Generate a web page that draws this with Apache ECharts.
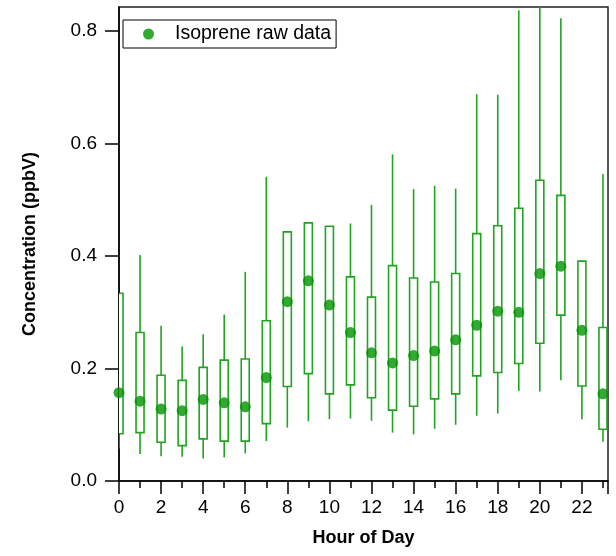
<!DOCTYPE html>
<html>
<head>
<meta charset="utf-8">
<script src="https://cdn.jsdelivr.net/npm/echarts@6/dist/echarts.min.js"></script>
<style>
html,body{margin:0;padding:0;background:#fff;}
#chart{width:616px;height:556px;}
</style>
</head>
<body>
<div id="chart"></div>
<script>
// Hour of day
var hours = [0,1,2,3,4,5,6,7,8,9,10,11,12,13,14,15,16,17,18,19,20,21,22,23];
// Lower whisker
var whiskerLow = [0.058,0.048,0.044,0.043,0.040,0.042,0.049,0.071,0.095,0.106,0.110,0.111,0.107,0.086,0.083,0.093,0.100,0.116,0.120,0.160,0.159,0.179,0.110,0.070];
// Box bottom
var boxLow = [0.084,0.086,0.069,0.063,0.075,0.071,0.071,0.102,0.168,0.191,0.155,0.171,0.148,0.126,0.133,0.146,0.155,0.187,0.193,0.209,0.245,0.295,0.169,0.092];
// Box top
var boxHigh = [0.334,0.264,0.188,0.179,0.202,0.215,0.217,0.285,0.443,0.459,0.453,0.363,0.327,0.383,0.361,0.354,0.369,0.440,0.454,0.485,0.535,0.508,0.391,0.273];
// Upper whisker
var whiskerHigh = [0.334,0.402,0.276,0.239,0.261,0.296,0.372,0.541,0.443,0.459,0.453,0.458,0.491,0.581,0.519,0.525,0.520,0.688,0.687,0.837,0.900,0.823,0.391,0.546];
// Isoprene raw data (dots)
var isoprene = [0.157,0.142,0.128,0.125,0.145,0.139,0.132,0.184,0.319,0.356,0.313,0.264,0.228,0.210,0.223,0.231,0.251,0.277,0.302,0.300,0.369,0.382,0.268,0.155];
// Tick labels
var xTicks = [0,2,4,6,8,10,12,14,16,18,20,22];
var yTicks = [0.0,0.2,0.4,0.6,0.8];

var boxData = hours.map(function(h,i){return [h, whiskerLow[i], boxLow[i], boxHigh[i], whiskerHigh[i]];});
var dotData = hours.map(function(h,i){return [h, isoprene[i]];});

var lineColor = '#22a322';
var dotColor = '#009400';
var font = "'Liberation Sans', Arial, sans-serif";

var chart = echarts.init(document.getElementById('chart'), null, {renderer:'canvas'});
chart.setOption({
  animation:false,
  backgroundColor:'#fff',
  grid:{left:119, right:8, top:7, bottom:75, show:true, borderColor:'#222', borderWidth:1.5, backgroundColor:'transparent'},
  legend:{
    left:123, top:20, orient:'horizontal',
    data:['Isoprene raw data'],
    borderColor:'#000', borderWidth:1, borderRadius:0,
    padding:[4,5,4,20],
    itemWidth:11, itemHeight:11,
    textStyle:{fontFamily:font, fontSize:19.5, color:'#000', padding:[0,0,0,16]}
  },
  xAxis:{
    type:'value', min:0, max:23.24, interval:2,
    name:'Hour of Day', nameLocation:'middle', nameGap:48,
    nameTextStyle:{fontFamily:font, fontSize:18, fontWeight:'bold', color:'#000'},
    axisLine:{show:true, onZero:false, lineStyle:{color:'#000', width:1.5}},
    axisTick:{show:true, inside:false, length:13, lineStyle:{color:'#000', width:1.5}},
    minorTick:{show:true, splitNumber:2, length:7, lineStyle:{color:'#000', width:1.5}},
    axisLabel:{margin:17, fontFamily:font, fontSize:19, color:'#000', showMaxLabel:false,
      formatter:function(v){return xTicks.indexOf(v)>=0 ? String(v) : '';}},
    splitLine:{show:false}
  },
  yAxis:{
    type:'value', min:0, max:0.843, interval:0.2,
    name:'Concentration (ppbV)', nameLocation:'middle', nameGap:80, nameRotate:90,
    nameTextStyle:{fontFamily:font, fontSize:18, fontWeight:'bold', color:'#000'},
    axisLine:{show:true, onZero:false, lineStyle:{color:'#000', width:1.5}},
    axisTick:{show:true, inside:false, length:14, lineStyle:{color:'#000', width:1.5}},
    axisLabel:{margin:22, fontFamily:font, fontSize:19, color:'#000', showMaxLabel:false,
      formatter:function(v){
        for (var k=0;k<yTicks.length;k++){ if (Math.abs(yTicks[k]-v)<1e-6) return yTicks[k].toFixed(1);} return '';}},
    splitLine:{show:false}
  },
  series:[
    {
      name:'box', type:'custom', clip:true, z:2,
      data:boxData,
      encode:{x:0, y:[1,2,3,4]},
      renderItem:function(params, api){
        var h = api.value(0);
        var pLo = api.coord([h, api.value(1)]);
        var pQ1 = api.coord([h, api.value(2)]);
        var pQ3 = api.coord([h, api.value(3)]);
        var pHi = api.coord([h, api.value(4)]);
        var x = pLo[0];
        var half = 4;
        var st = {stroke:lineColor, lineWidth:1.6, fill:null};
        var children = [];
        if (pLo[1] - pQ1[1] > 0.5) children.push({type:'line', shape:{x1:x,y1:pLo[1],x2:x,y2:pQ1[1]}, style:st});
        if (pQ3[1] - pHi[1] > 0.5) children.push({type:'line', shape:{x1:x,y1:pQ3[1],x2:x,y2:pHi[1]}, style:st});
        children.push({type:'rect', shape:{x:x-half, y:pQ3[1], width:2*half, height:pQ1[1]-pQ3[1]},
          style:{stroke:lineColor, lineWidth:1.6, fill:'#fff'}});
        return {type:'group', children:children};
      }
    },
    {
      name:'Isoprene raw data', type:'scatter', z:5,
      symbol:'circle', symbolSize:11,
      itemStyle:{color:dotColor},
      data:dotData
    }
  ]
});
</script>
</body>
</html>
